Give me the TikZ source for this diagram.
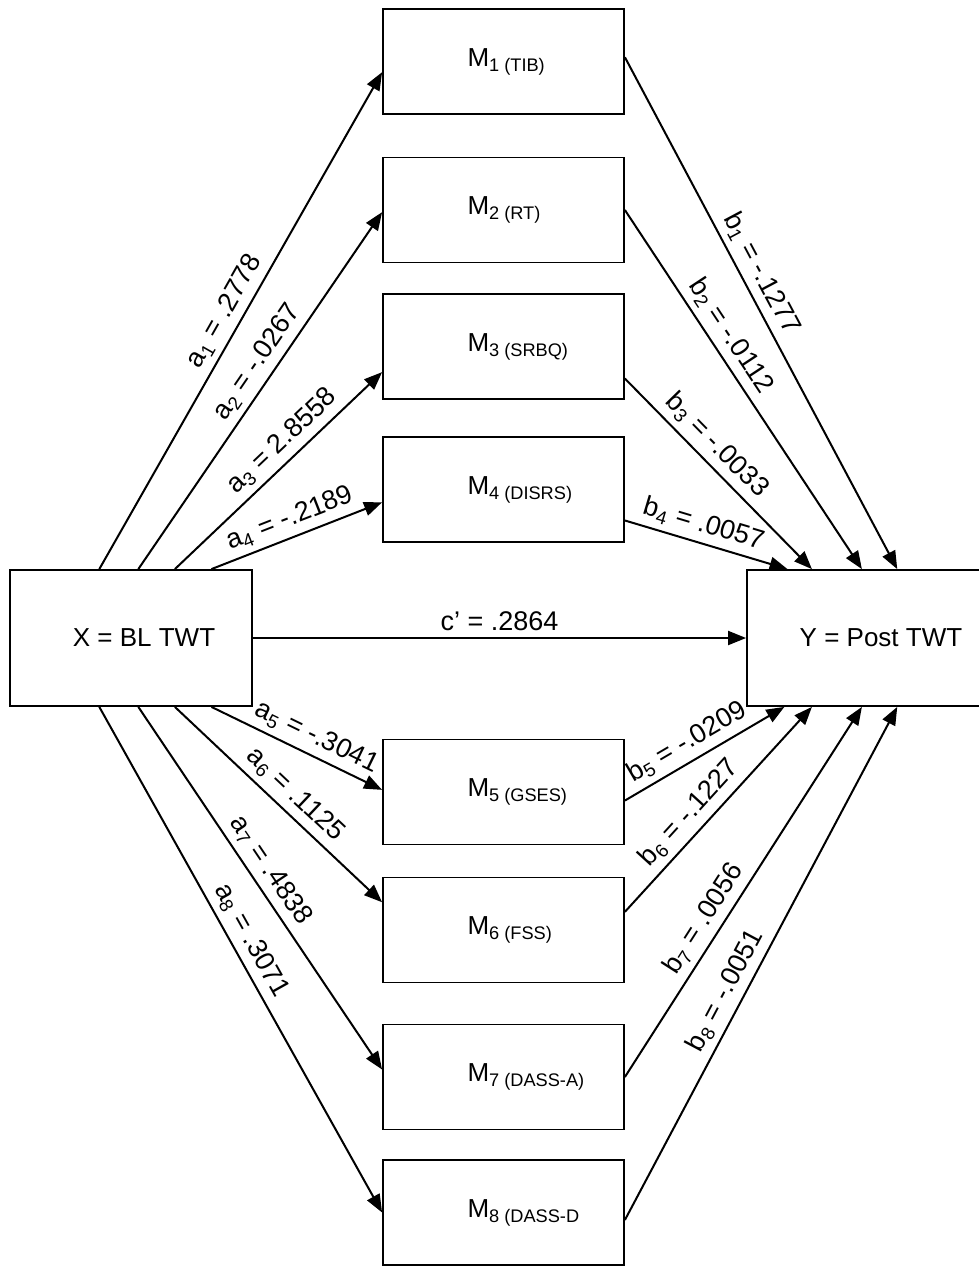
\documentclass[tikz,border=0pt]{standalone}
\usepackage{fontspec}
\setmainfont{Liberation Sans}
\usetikzlibrary{arrows.meta,calc}

\tikzset{
  varbox/.style={draw,line width=0.9pt,minimum width=121pt,minimum height=68pt,inner sep=0pt,
                 label={[xshift=6.5pt,inner sep=0pt,font=\fontsize{13}{15}\selectfont]center:#1}},
  medbox/.style={draw,line width=0.9pt,minimum width=120.5pt,minimum height=52.5pt,inner sep=0pt,
                 label={[anchor=west,xshift=42.5pt,inner sep=0pt,font=\fontsize{13}{15}\selectfont]west:#1}},
  effect/.style={line width=1pt,-{Triangle[length=9pt,width=7pt]}},
  coef/.style={sloped,above,inner sep=3pt,font=\fontsize{13.5}{16}\selectfont}
}

\begin{document}
\begin{tikzpicture}[x=0.5pt,y=-0.5pt]
  \useasboundingbox (0,0) rectangle (979,1266);

  % outcome and predictor
  \node[varbox={X = BL TWT}] (X) at (131,638) {};
  \node[varbox={Y = Post TWT}] (Y) at (868,638) {};

  % mediators
  \foreach \i/\y/\n in {1/61.5/(TIB),2/210/(RT),3/346.5/(SRBQ),4/489.5/(DISRS),
                        5/792/(GSES),6/930/(FSS),7/1077/(DASS-A),8/1212.5/(DASS-D}
    \node[medbox={M\textsubscript{\i\ \n}}] (M\i) at (503.5,\y) {};

  % a paths above
  \foreach \i/\s/\e/\p/\v in {1/.37/.6/.5/.2778,2/.53/.52/.55/-.0267,
                              3/.68/.74/.58/2.8558,4/.83/.62/.5/-.2189}
    \draw[effect] ($(X.north west)!\s!(X.north east)$)
      -- node[coef,pos=\p] {a\textsubscript{\i} = \v}
      ($(M\i.north west)!\e!(M\i.south west)$);

  % a paths below
  \foreach \i/\s/\e/\p/\v in {5/.83/.48/.57/-.3041,6/.68/.24/.52/.1125,
                              7/.53/.43/.48/.4838,8/.37/.5/.48/.3071}
    \draw[effect] ($(X.south west)!\s!(X.south east)$)
      -- node[coef,pos=\p] {a\textsubscript{\i} = \v}
      ($(M\i.north west)!\e!(M\i.south west)$);

  % b paths above
  \foreach \i/\s/\e/\p/\v in {1/.46/.62/.44/-.1277,2/.5/.475/.38/-.0112,
                              3/.8/.27/.42/-.0033,4/.79/.17/.45/.0057}
    \draw[effect] ($(M\i.north east)!\s!(M\i.south east)$)
      -- node[coef,pos=\p] {b\textsubscript{\i} = \v}
      ($(Y.north west)!\e!(Y.north east)$);

  % b paths below
  \foreach \i/\s/\e/\p/\v in {5/.58/.157/.45/-.0209,6/.33/.27/.42/-.1227,
                              7/.5/.475/.4/.0056,8/.57/.62/.43/-.0051}
    \draw[effect] ($(M\i.north east)!\s!(M\i.south east)$)
      -- node[coef,pos=\p] {b\textsubscript{\i} = \v}
      ($(Y.south west)!\e!(Y.south east)$);

  % direct effect
  \draw[effect] (X.east) -- node[coef] {c’ = .2864} (Y.west);
\end{tikzpicture}
\end{document}
